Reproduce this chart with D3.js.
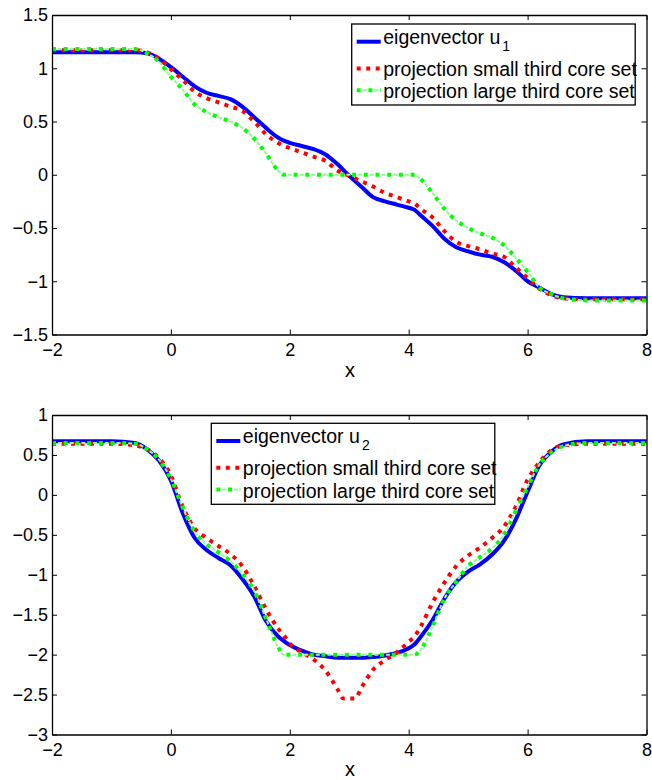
<!DOCTYPE html>
<html>
<head>
<meta charset="utf-8">
<script src="https://cdn.jsdelivr.net/npm/d3@7"></script>
<style>
	body { margin: 0; background: #fff; }
	text { font-family: "Liberation Sans", Arial, Helvetica, sans-serif; fill: #000; }
</style>
</head>
<body>
<div class="chart"></div>
<script>
var w = 652, h = 780;

// ---- data ----
var xTicks = [-2, 0, 2, 4, 6, 8];
var yTicksTop = [-1.5, -1, -0.5, 0, 0.5, 1, 1.5];
var yTicksBot = [-3, -2.5, -2, -1.5, -1, -0.5, 0, 0.5, 1];

var seriesNames = ['eigenvector u', 'projection small third core set', 'projection large third core set'];

// top panel: eigenvector u1 and its two projections
var xTop = [-2, -1, -0.6, -0.4, -0.2, 0, 0.2, 0.4, 0.6, 0.8, 1.0, 1.2, 1.4, 1.6, 1.8, 1.9, 2.0, 2.2, 2.4, 2.6,
	2.8, 3.0, 3.2, 3.4, 3.6, 3.8, 4.0, 4.1, 4.2, 4.4, 4.6, 4.8, 5.0, 5.2, 5.4, 5.6, 5.8, 6.0, 6.2, 6.4, 6.6, 7, 8];
var u1 = [1.15, 1.15, 1.15, 1.14, 1.09, 1.01, 0.92, 0.83, 0.77, 0.74, 0.71, 0.64, 0.54, 0.44, 0.35, 0.32, 0.30, 0.27, 0.24, 0.19,
	0.10, -0.01, -0.11, -0.21, -0.25, -0.28, -0.31, -0.33, -0.38, -0.48, -0.60, -0.68, -0.72, -0.75, -0.77, -0.82, -0.90, -1.00, -1.06, -1.12, -1.15, -1.16, -1.16];
var u1Small = [1.17, 1.17, 1.17, 1.15, 1.09, 0.99, 0.89, 0.78, 0.72, 0.68, 0.64, 0.60, 0.50, 0.38, 0.30, 0.27, 0.25, 0.21, 0.17, 0.13,
	0.04, -0.01, -0.06, -0.11, -0.17, -0.21, -0.25, -0.27, -0.32, -0.40, -0.53, -0.63, -0.67, -0.70, -0.74, -0.77, -0.87, -0.97, -1.07, -1.13, -1.16, -1.17, -1.17];
var u1Large = [1.18, 1.18, 1.18, 1.14, 1.06, 0.92, 0.80, 0.66, 0.59, 0.54, 0.50, 0.44, 0.34, 0.20, 0.04, 0.00, 0.00, 0.00, 0.00, 0.00,
	0.00, 0.00, 0.00, 0.00, 0.00, 0.00, 0.00, 0.00, -0.04, -0.17, -0.32, -0.43, -0.50, -0.55, -0.59, -0.66, -0.78, -0.91, -1.06, -1.12, -1.16, -1.18, -1.18];

// bottom panel: eigenvector u2 and its two projections
var xBot = [-2, -1, -0.6, -0.4, -0.2, 0, 0.2, 0.4, 0.6, 0.8, 1.0, 1.2, 1.4, 1.6, 1.8, 1.9, 2.0, 2.2, 2.4, 2.6,
	2.8, 2.9, 3.0, 3.1, 3.2, 3.4, 3.6, 3.8, 4.0, 4.1, 4.2, 4.4, 4.6, 4.8, 5.0, 5.2, 5.4, 5.6, 5.8, 6.0, 6.2, 6.4, 6.6, 7, 8];
var u2 = [0.67, 0.67, 0.65, 0.57, 0.43, 0.18, -0.23, -0.54, -0.69, -0.79, -0.88, -1.05, -1.27, -1.58, -1.77, -1.83, -1.88, -1.95, -2.00, -2.02,
	-2.04, -2.04, -2.04, -2.04, -2.04, -2.03, -2.01, -1.98, -1.92, -1.87, -1.78, -1.57, -1.30, -1.09, -0.96, -0.87, -0.75, -0.58, -0.31, 0.04, 0.37, 0.54, 0.63, 0.67, 0.67];
var u2Small = [0.64, 0.64, 0.62, 0.57, 0.46, 0.24, -0.15, -0.42, -0.54, -0.64, -0.74, -0.89, -1.14, -1.43, -1.67, -1.76, -1.86, -1.97, -2.06, -2.20,
	-2.43, -2.55, -2.55, -2.55, -2.42, -2.19, -2.07, -1.97, -1.84, -1.77, -1.65, -1.35, -1.10, -0.89, -0.76, -0.66, -0.54, -0.40, -0.15, 0.19, 0.41, 0.56, 0.62, 0.64, 0.64];
var u2Large = [0.65, 0.65, 0.64, 0.57, 0.44, 0.20, -0.16, -0.46, -0.62, -0.72, -0.83, -0.99, -1.20, -1.55, -1.90, -2.00, -2.00, -2.00, -2.00, -2.00,
	-2.00, -2.00, -2.00, -2.00, -2.00, -2.00, -2.00, -2.00, -2.00, -2.00, -1.94, -1.65, -1.30, -1.09, -0.89, -0.78, -0.67, -0.50, -0.20, 0.10, 0.38, 0.53, 0.61, 0.65, 0.65];

var svg = d3.select('.chart').append('svg')
			.attr('width', w)
			.attr('height', h)
			.style('display', 'block')
			.style('background-color', '#fff');

var L = 52, R = 646.5, tick = 5;

function drawLine(g, xs, ys, x, y, kind) {
	var pts = xs.map(function(d, i){ return [x(d), y(ys[i])]; });
	var line = d3.line().curve(d3.curveMonotoneX);
	if (kind === 'solid') {
		g.append('path').attr('d', line(pts)).attr('fill', 'none')
			.attr('stroke', '#0000ff').attr('stroke-width', 4);
	} else if (kind === 'dot') {
		g.append('path').attr('d', line(pts)).attr('fill', 'none')
			.attr('stroke', '#ff0000').attr('stroke-width', 4)
			.attr('stroke-dasharray', '4,5.5');
	} else {
		// dash-dot: faint dash between bright square dots
		g.append('path').attr('d', line(pts)).attr('fill', 'none')
			.attr('stroke', '#8dff8d').attr('stroke-width', 2)
			.attr('stroke-dasharray', '4,7.7').attr('stroke-dashoffset', -6);
		g.append('path').attr('d', line(pts)).attr('fill', 'none')
			.attr('stroke', '#00ff00').attr('stroke-width', 4)
			.attr('stroke-dasharray', '4,7.7');
	}
}

function panel(cfg) {
	var x = d3.scaleLinear().domain([-2, 8]).range([L, R]);
	var y = d3.scaleLinear().domain([cfg.yTicks[0], cfg.yTicks[cfg.yTicks.length - 1]]).range([cfg.bottom, cfg.top]);
	var g = svg.append('g');
	var fmt = d3.format('');

	g.append('rect').attr('x', L).attr('y', cfg.top)
		.attr('width', R - L).attr('height', cfg.bottom - cfg.top)
		.attr('fill', '#fff');

	// curves
	drawLine(g, cfg.xs, cfg.series[0], x, y, 'solid');
	drawLine(g, cfg.xs, cfg.series[1], x, y, 'dot');
	drawLine(g, cfg.xs, cfg.series[2], x, y, 'dashdot');

	// axes, ticks pointing inwards on all four sides
	var ax = [
		[d3.axisBottom(x).tickValues(xTicks).tickFormat(fmt).tickPadding(8.5), 'translate(0,' + cfg.bottom + ')'],
		[d3.axisTop(x).tickValues(xTicks).tickFormat(''), 'translate(0,' + cfg.top + ')'],
		[d3.axisLeft(y).tickValues(cfg.yTicks).tickFormat(fmt).tickPadding(4), 'translate(' + L + ',0)'],
		[d3.axisRight(y).tickValues(cfg.yTicks).tickFormat(''), 'translate(' + R + ',0)']
	];
	ax.forEach(function(a){
		var ga = g.append('g').attr('transform', a[1])
			.call(a[0].tickSizeInner(-tick).tickSizeOuter(0));
		ga.select('.domain').attr('stroke', '#000').attr('stroke-width', 1.3);
		ga.selectAll('.tick line').attr('stroke', '#000').attr('stroke-width', 1);
		ga.selectAll('.tick text').attr('font-size', 18)
			.attr('font-family', '"Liberation Sans", Arial, sans-serif').attr('fill', '#000');
	});

	// x label
	g.append('text').attr('x', 350).attr('y', cfg.xlabelY)
		.attr('text-anchor', 'middle').attr('font-size', 20).text('x');

	// legend
	var lg = g.append('g').attr('transform', 'translate(' + cfg.legX + ',' + cfg.legY + ')');
	lg.append('rect').attr('width', 283.5).attr('height', 81)
		.attr('fill', '#fff').attr('stroke', '#000').attr('stroke-width', 1.3);
	var rowsY = [17.7, 44.5, 66.2], textY = [19.5, 52, 74.3];
	var kinds = ['solid', 'dot', 'dashdot'];
	kinds.forEach(function(k, i){
		var lx = d3.scaleLinear().domain([0, 1]).range([5, 29]);
		var ly = d3.scaleLinear().domain([0, 1]).range([rowsY[i], rowsY[i]]);
		drawLine(lg, [0, 1], [0, 0], lx, ly, k);
		var t = lg.append('text').attr('x', 31.5).attr('y', textY[i]).attr('font-size', 19.5).text(seriesNames[i]);
		if (i === 0) {
			t.append('tspan').attr('dx', 2).attr('dy', 7).attr('font-size', 14).text(cfg.sub);
		}
	});
}

panel({
	top: 15, bottom: 334.5, yTicks: yTicksTop, xs: xTop,
	series: [u1, u1Small, u1Large], sub: '1',
	legX: 351.7, legY: 24, xlabelY: 376.5
});

panel({
	top: 415, bottom: 734.5, yTicks: yTicksBot, xs: xBot,
	series: [u2, u2Small, u2Large], sub: '2',
	legX: 211.3, legY: 423.3, xlabelY: 775.5
});
</script>
</body>
</html>
